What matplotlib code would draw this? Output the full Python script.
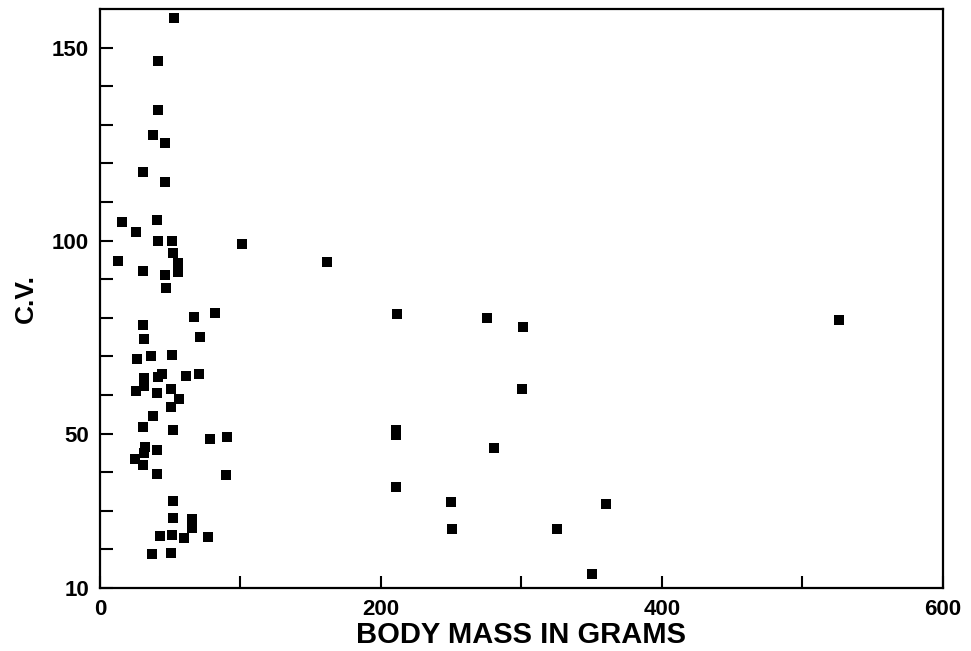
import matplotlib
matplotlib.use("Agg")
import matplotlib.pyplot as plt

# body mass (g) and coefficient of variation
mass = [52.9, 41.5, 41.3, 38.0, 46.5, 30.8, 46.3, 15.7, 40.8, 25.9,
        41.0, 51.0, 100.8, 13.0, 52.0, 55.8, 30.8, 55.8, 46.3, 47.0,
        81.6, 66.7, 30.8, 31.1, 71.2, 26.3, 36.1, 51.0, 31.1, 41.5,
        43.9, 61.0, 70.5, 31.1, 25.9, 40.6, 50.5, 56.0, 50.5, 37.7,
        30.8, 52.2, 78.5, 90.4, 32.0, 31.1, 40.6, 24.7, 30.8, 40.8,
        89.7, 51.7, 51.7, 65.7, 65.7, 42.9, 51.0, 59.8, 76.6, 36.8,
        50.5, 161.3, 211.4, 275.7, 300.8, 300.4, 210.9, 210.9, 280.4, 210.4,
        250.1, 250.3, 325.0, 360.4, 349.9, 526.2]
cv = [157.8, 146.6, 133.8, 127.4, 125.2, 117.7, 115.1, 104.7, 105.4, 102.2,
      100.0, 99.8, 99.0, 94.7, 96.7, 94.3, 92.0, 91.9, 91.0, 87.8,
      81.3, 80.1, 78.1, 74.5, 75.0, 69.4, 70.2, 70.3, 64.3, 64.7,
      65.4, 65.0, 65.5, 62.3, 61.1, 60.6, 61.5, 59.0, 56.9, 54.5,
      51.8, 50.9, 48.6, 49.1, 46.6, 44.9, 45.6, 43.4, 41.9, 39.5,
      39.2, 32.5, 28.0, 27.9, 25.5, 23.5, 23.7, 22.9, 23.1, 18.8,
      19.0, 94.5, 81.0, 80.0, 77.7, 61.6, 50.9, 49.6, 46.2, 36.1,
      32.2, 25.2, 25.2, 31.7, 13.5, 79.4]

xticks = [0, 100, 200, 300, 400, 500, 600]
xticklabels = ["0", "", "200", "", "400", "", "600"]
yticks = list(range(10, 160, 10))
yticklabels = [str(v) if v in (10, 50, 100, 150) else "" for v in yticks]

plt.rcParams['font.family'] = ['Liberation Sans', 'DejaVu Sans']
plt.rcParams['font.weight'] = 'bold'

fig = plt.figure(figsize=(9.71, 6.51), dpi=100)
ax = fig.add_axes([0.103, 0.097, 0.868, 0.889])

ax.scatter(mass, cv, marker='s', s=48, color='black', linewidths=0)

ax.set_xlim(0, 600)
ax.set_ylim(10, 160)
ax.set_xticks(xticks)
ax.set_xticklabels(xticklabels)
ax.set_yticks(yticks)
ax.set_yticklabels(yticklabels)
ax.tick_params(direction='in', length=9, width=1.5, labelsize=16, pad=8)

for sp in ax.spines.values():
    sp.set_linewidth(1.6)

ax.set_xlabel("BODY MASS IN GRAMS", fontsize=21, fontweight='bold', labelpad=1)
ax.set_ylabel("C.V.", fontsize=19, fontweight='bold', labelpad=10)

fig.savefig("out.png", dpi=100)
